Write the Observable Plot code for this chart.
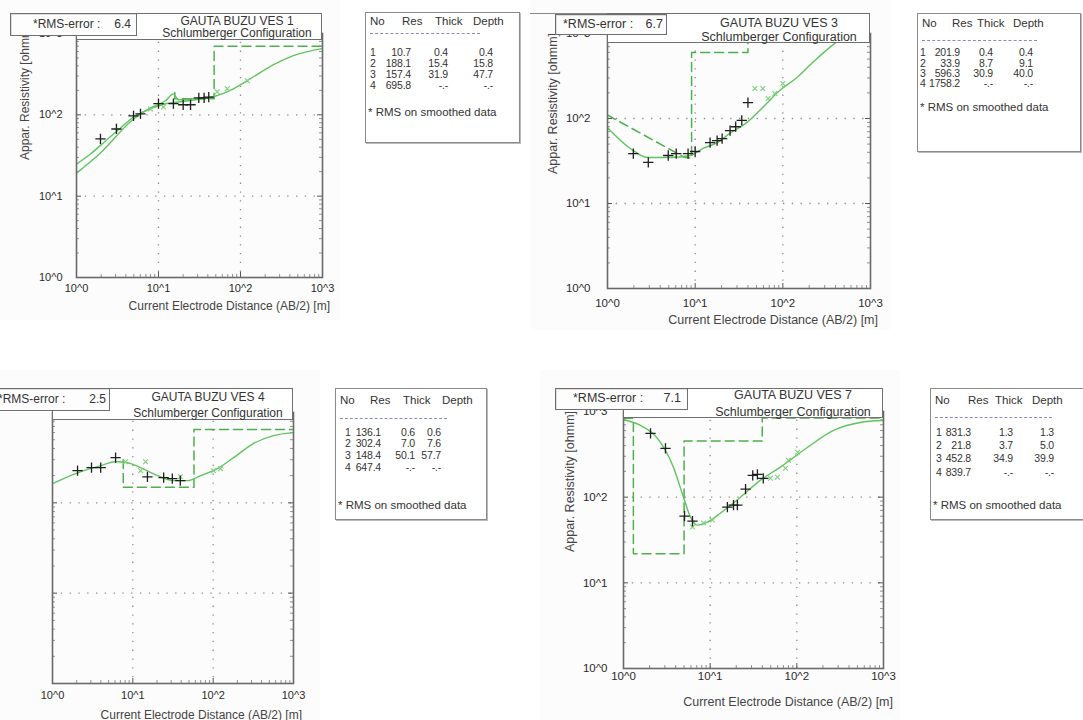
<!DOCTYPE html>
<html><head><meta charset="utf-8">
<script src="https://cdn.jsdelivr.net/npm/d3@7"></script>
<script src="https://cdn.jsdelivr.net/npm/@observablehq/plot@0.6"></script>
<style>
body{margin:0;width:1083px;height:720px;overflow:hidden;background:#fff;position:relative;font-family:"Liberation Sans",Arial,sans-serif}
.abs{position:absolute;white-space:nowrap}
.box{position:absolute;box-sizing:border-box;border:1px solid #7a7a7a;background:#fff}
.blue{color:#3a3aa6}
</style></head><body>
<script>
// ---------- shared axis data ----------
const tickValues = [1, 10, 100, 1000];
const tickLabels = ["10^0", "10^1", "10^2", "10^3"];
const gridValues = [10, 100];
const xTitle = "Current Electrode Distance (AB/2) [m]";
const yTitle = "Appar. Resistivity [ohmm]";
const legendHeader = ["No", "Res", "Thick", "Depth"];
const rmsNote = "* RMS on smoothed data";

// ---------- VES 1 ----------
const v1Title = "GAUTA BUZU VES 1";
const v1Rms = "6.4";
const v1ObsX = [1.96, 3.07, 4.96, 6.03, 10.0, 15.2, 20.0, 24.6, 31.0, 36.0, 41.0];
const v1ObsY = [50.6, 67, 97, 103, 137, 137, 133, 133, 162, 162, 165];
const v1SmX = [8.0, 11.5, 52, 69, 121];
const v1SmY = [118, 125, 192, 209, 262];
const v1CurveX = [1, 1.48, 2.26, 3.44, 4.96, 8.0, 12.2, 18.5, 28.3, 46.9, 82, 144, 253, 442, 1000];
const v1CurveY = [24.8, 33, 47.7, 69, 94, 119, 137, 145, 153, 167, 209, 294, 414, 535, 653];
const v1Curve2X = [1, 1.96, 4.96, 8.0, 12.2, 15.2, 17.5, 28.3, 46.9];
const v1Curve2Y = [19.2, 34, 89, 122, 149, 181, 153, 158, 167];
const v1ModelX = [15.8, 15.8, 47.7, 47.7, 1000];
const v1ModelY = [188.1, 157.4, 157.4, 695.8, 695.8];
const v1No = ["1", "2", "3", "4"];
const v1Res = ["10.7", "188.1", "157.4", "695.8"];
const v1Thick = ["0.4", "15.4", "31.9", "-.-"];
const v1Depth = ["0.4", "15.8", "47.7", "-.-"];

// ---------- VES 3 ----------
const v3Title = "GAUTA BUZU VES 3";
const v3Rms = "6.7";
const v3ObsX = [1.97, 2.92, 4.93, 6.08, 8.3, 10, 14.8, 17.8, 20.3, 25, 29, 34, 40];
const v3ObsY = [38.7, 30.4, 36.7, 38.7, 38.7, 40.9, 52, 55, 58, 72, 80, 95, 154];
const v3SmX = [48, 59, 68, 81, 100];
const v3SmY = [225, 225, 172, 197, 258];
const v3CurveX = [1, 1.82, 2.85, 5.2, 8.8, 12.3, 17.8, 25, 39, 59, 92, 145, 219, 389, 575];
const v3CurveY = [78, 44.4, 34.8, 34.8, 36.7, 44.4, 52, 67, 90, 135, 213, 303, 456, 760, 1000];
const v3ModelX = [1, 7.5, 9.1, 9.1, 40, 40, 1000];
const v3ModelY = [110, 35, 33.9, 596.3, 596.3, 1758.2, 1758.2];
const v3No = ["1", "2", "3", "4"];
const v3Res = ["201.9", "33.9", "596.3", "1758.2"];
const v3Thick = ["0.4", "8.7", "30.9", "-.-"];
const v3Depth = ["0.4", "9.1", "40.0", "-.-"];

// ---------- VES 4 ----------
const v4Title = "GAUTA BUZU VES 4";
const v4Rms = "2.5";
const v4ObsX = [2.05, 3.06, 3.98, 6.1, 15.2, 24.2, 31, 39];
const v4ObsY = [227, 245, 245, 316, 194, 190, 185, 176];
const v4SmX = [8.1, 14.4, 12.5, 39, 101, 123];
const v4SmY = [285, 285, 227, 194, 227, 239];
const v4CurveX = [1, 2.05, 3.98, 6.1, 8.6, 12.5, 20.3, 32, 48, 70, 113, 180, 316, 565, 1000];
const v4CurveY = [163, 215, 258, 285, 278, 245, 200, 176, 176, 200, 239, 316, 453, 555, 600];
const v4ModelX = [7.6, 7.6, 57.7, 57.7, 1000];
const v4ModelY = [302.4, 148.4, 148.4, 647.4, 647.4];
const v4No = ["1", "2", "3", "4"];
const v4Res = ["136.1", "302.4", "148.4", "647.4"];
const v4Thick = ["0.6", "7.0", "50.1", "-.-"];
const v4Depth = ["0.6", "7.6", "57.7", "-.-"];

// ---------- VES 7 ----------
const v7Title = "GAUTA BUZU VES 7";
const v7Rms = "7.1";
const v7ObsX = [2.05, 3.05, 5.06, 6.25, 15.8, 18.6, 20.6, 25.6, 31, 35.1, 41];
const v7ObsY = [555, 372, 60, 52.6, 76.6, 80.7, 80.7, 124, 180, 185, 166];
const v7SmX = [6.25, 8.4, 10.6, 49.6, 59.7, 74, 80, 102];
const v7SmY = [44.8, 50, 54, 166, 171, 217, 269, 334];
const v7CurveX = [1, 1.57, 2.47, 3.77, 4.92, 5.93, 7.1, 9.3, 13.1, 22.4, 38, 64, 132, 265, 540, 1000];
const v7CurveY = [800, 687, 485, 223, 100, 58.5, 47.2, 51, 65, 100, 158, 223, 380, 602, 745, 785];
const v7ModelX = [1, 1.3, 1.3, 5.0, 5.0, 39.9, 39.9, 1000];
const v7ModelY = [831.3, 831.3, 21.8, 21.8, 452.8, 452.8, 839.7, 839.7];
const v7No = ["1", "2", "3", "4"];
const v7Res = ["831.3", "21.8", "452.8", "839.7"];
const v7Thick = ["1.3", "3.7", "34.9", "-.-"];
const v7Depth = ["1.3", "5.0", "39.9", "-.-"];

// ---------- helpers ----------
const GREEN = "#5ec45e", GREEN_D = "#4faf4f", GREEN_X = "#7dcf7d";
const pts = (xs, ys) => xs.map((x, i) => ({x, y: ys[i]}));
const fmt = d => tickLabels[tickValues.indexOf(d)] ?? "";
const minor = [];
for (const dec of [1, 10, 100]) for (let k = 2; k <= 9; k++) minor.push(k * dec);

function el(tag, cls, css, text) {
  const e = document.createElement(tag);
  if (cls) e.className = cls;
  Object.assign(e.style, css);
  if (text != null) e.textContent = text;
  document.body.appendChild(e);
  return e;
}
function textAt(t, x, cy, opts = {}) {
  const fs = opts.fs || 12, lh = opts.lh || fs + 2;
  const css = {top: (cy - lh / 2) + "px", fontSize: fs + "px", lineHeight: lh + "px", color: opts.color || "#333"};
  if (opts.ls) css.letterSpacing = opts.ls + "px";
  const e = el("div", "abs" + (opts.blue ? " blue" : ""), css, t);
  if (opts.anchor === "middle") { e.style.left = x + "px"; e.style.transform = "translateX(-50%)"; }
  else if (opts.anchor === "end") { e.style.right = (1083 - x) + "px"; }
  else e.style.left = x + "px";
  return e;
}

function panel(p) {
  const ih = p.height - p.mt - p.mb, iw = p.width - p.ml - p.mr;
  const wrap = el("div", "abs", {left: p.left + "px", top: p.top + "px", width: p.width + "px", height: p.height + "px", background: "#fcfcfc"});
  const tickStyle = {stroke: "#555", strokeWidth: 1};
  const marks = [
    Plot.ruleX(gridValues, {stroke: "#8c8c8c", strokeWidth: 1.3, strokeDasharray: "1.3,7.5"}),
    Plot.ruleY(gridValues, {stroke: "#8c8c8c", strokeWidth: 1.3, strokeDasharray: "1.3,7.5"}),
    Plot.tickX(gridValues, {x: d => d, insetTop: ih - 5, ...tickStyle}),
    Plot.tickX(gridValues, {x: d => d, insetBottom: ih - 5, ...tickStyle}),
    Plot.tickY(gridValues, {y: d => d, insetRight: iw - 5, ...tickStyle}),
    Plot.tickY(gridValues, {y: d => d, insetLeft: iw - 5, ...tickStyle}),
    Plot.tickX(minor, {x: d => d, insetTop: ih - 3, stroke: "#777", strokeWidth: 0.8}),
    Plot.tickY(minor, {y: d => d, insetRight: iw - 3, stroke: "#777", strokeWidth: 0.8}),
    Plot.tickY(minor, {y: d => d, insetLeft: iw - 3, stroke: "#777", strokeWidth: 0.8}),
    Plot.line(pts(p.modelX, p.modelY), {x: "x", y: "y", stroke: GREEN_D, strokeWidth: 1.5, strokeDasharray: "9,5", clip: true}),
    ...p.curves.map(c => Plot.line(pts(c[0], c[1]), {x: "x", y: "y", stroke: GREEN, strokeWidth: 1.4, curve: "monotone-x", clip: true})),
    Plot.dot(pts(p.smX, p.smY), {x: "x", y: "y", symbol: "times", r: 2.3, stroke: GREEN_X, strokeWidth: 1.1}),
    Plot.dot(pts(p.obsX, p.obsY), {x: "x", y: "y", symbol: "plus", r: 3.4, stroke: "#1e1e1e", strokeWidth: 1.3}),
    Plot.frame({stroke: "#6a6a6a", strokeWidth: 1.6})
  ];
  const svg = Plot.plot({
    width: p.width, height: p.height,
    marginLeft: p.ml, marginRight: p.mr, marginTop: p.mt, marginBottom: p.mb,
    style: {background: "transparent", fontFamily: "Liberation Sans, Arial, sans-serif", fontSize: p.fs + "px", color: "#2a2a2a", overflow: "visible"},
    x: {type: "log", domain: [1, 1000], ticks: tickValues, tickFormat: fmt, tickSize: 0, tickPadding: p.xPad, label: null},
    y: p.yAxis === false
      ? {type: "log", domain: [1, 1000], axis: null}
      : {type: "log", domain: [1, 1000], ticks: tickValues, tickFormat: fmt, tickSize: 0, tickPadding: p.yPad, label: null},
    marks
  });
  wrap.appendChild(svg);
}

function header(h) {
  el("div", "box", {left: h.tL + "px", top: h.tT + "px", width: h.tW + "px", height: h.tH + "px", borderColor: "#6f6f6f"});
  textAt(h.title, h.cx, h.y1, {anchor: "middle", blue: true, fs: h.fs});
  textAt("Schlumberger Configuration", h.cx, h.y2, {anchor: "middle", blue: true, fs: h.fs});
  el("div", "box", {left: h.rL + "px", top: h.rT + "px", width: h.rW + "px", height: h.rH + "px", borderColor: "#6f6f6f", boxShadow: "inset 1px 1px 0 #ddd", background: "#fdfdfd"});
  textAt("*RMS-error :", h.rTx, h.rT + h.rH / 2 - 0.5, {fs: h.fs, lh: h.fs, color: "#333"});
  textAt(h.rms, h.rVx, h.rT + h.rH / 2 - 0.5, {fs: h.fs, lh: h.fs, color: "#333", anchor: "end"});
}

function legend(g) {
  el("div", "box", {left: g.L + "px", top: g.T + "px", width: g.W + "px", height: g.H + "px", borderColor: "#8a8a8a", boxShadow: "1px 1px 0 #bbb"});
  legendHeader.forEach((t, i) => textAt(t, g.L + g.hx[i], g.T + g.hy, {blue: true, fs: 11.5}));
  el("div", "abs", {left: (g.L + g.dx1) + "px", top: (g.T + g.dy) + "px", width: (g.dx2 - g.dx1) + "px", height: "0", borderTop: "1px dashed #8a8ac8"});
  const o = {blue: true, fs: 10.5, ls: -0.2};
  for (let i = 0; i < 4; i++) {
    const cy = g.T + g.ry[i];
    textAt(g.no[i], g.L + g.noX, cy, o);
    textAt(g.res[i], g.L + g.resR, cy, {...o, anchor: "end"});
    textAt(g.thick[i], g.L + g.thR, cy, {...o, anchor: "end"});
    textAt(g.depth[i], g.L + g.deR, cy, {...o, anchor: "end"});
  }
  textAt(rmsNote, g.L + g.nx, g.T + g.ny, {blue: true, fs: 11.5});
}

function yLabel(x, bottom, fs) {
  el("div", "abs", {left: x + "px", top: bottom + "px", fontSize: fs + "px", lineHeight: (fs + 2) + "px", color: "#444", transform: "rotate(-90deg)", transformOrigin: "0 0"}, yTitle);
}

// ---------- panels ----------
panel({left: 0, top: 0, width: 340, height: 320, ml: 76, mr: 18, mt: 33, mb: 43, xPad: 7, yPad: 14, fs: 11,
  obsX: v1ObsX, obsY: v1ObsY, smX: v1SmX, smY: v1SmY, curves: [[v1CurveX, v1CurveY], [v1Curve2X, v1Curve2Y]], modelX: v1ModelX, modelY: v1ModelY});
panel({left: 530, top: 0, width: 360, height: 330, ml: 77, mr: 20, mt: 33, mb: 42, xPad: 10, yPad: 17, fs: 11.5,
  obsX: v3ObsX, obsY: v3ObsY, smX: v3SmX, smY: v3SmY, curves: [[v3CurveX, v3CurveY]], modelX: v3ModelX, modelY: v3ModelY});
panel({left: 0, top: 370, width: 320, height: 350, ml: 52, mr: 27, mt: 42, mb: 37, xPad: 8, yAxis: false, fs: 11,
  obsX: v4ObsX, obsY: v4ObsY, smX: v4SmX, smY: v4SmY, curves: [[v4CurveX, v4CurveY]], modelX: v4ModelX, modelY: v4ModelY});
panel({left: 540, top: 370, width: 360, height: 350, ml: 83, mr: 17, mt: 41, mb: 52, xPad: 3, yPad: 16, fs: 11.5,
  obsX: v7ObsX, obsY: v7ObsY, smX: v7SmX, smY: v7SmY, curves: [[v7CurveX, v7CurveY]], modelX: v7ModelX, modelY: v7ModelY});

// axis titles
textAt(xTitle, 330, 306, {anchor: "end", fs: 12, color: "#444"});
textAt(xTitle, 878, 320, {anchor: "end", fs: 12.5, color: "#444"});
textAt(xTitle, 302, 715, {anchor: "end", fs: 12, color: "#444"});
textAt(xTitle, 893, 702, {anchor: "end", fs: 12.5, color: "#444"});
yLabel(18, 160, 12);
yLabel(546, 174, 12.5);
yLabel(563, 552, 12.5);

// top line near VES 3 header
el("div", "abs", {left: "530px", top: "13px", width: "77px", height: "0", borderTop: "1px solid #888"});

// headers
header({title: v1Title, rms: v1Rms, fs: 12, tL: 76, tT: 13, tW: 246, tH: 27, cx: 237, y1: 21, y2: 33,
  rL: 10, rT: 13, rW: 127, rH: 23, rTx: 33, rVx: 131});
header({title: v3Title, rms: v3Rms, fs: 12.5, tL: 607, tT: 13, tW: 263, tH: 30, cx: 779, y1: 23, y2: 37,
  rL: 555, rT: 14, rW: 112, rH: 21, rTx: 563, rVx: 663});
header({title: v4Title, rms: v4Rms, fs: 12, tL: 52, tT: 388, tW: 241, tH: 32, cx: 208, y1: 397, y2: 413,
  rL: -20, rT: 388, rW: 130, rH: 23, rTx: -2, rVx: 106});
header({title: v7Title, rms: v7Rms, fs: 12.5, tL: 623, tT: 388, tW: 260, tH: 30, cx: 793, y1: 395, y2: 412,
  rL: 555, rT: 388, rW: 133, rH: 22, rTx: 573, rVx: 681});

// legends
legend({L: 365, T: 12, W: 155, H: 131, hx: [5, 37, 70, 108], hy: 10, dx1: 5, dx2: 115, dy: 21,
  ry: [40, 51, 62, 73.5], noX: 5, resR: 46, thR: 83, deR: 128, nx: 3, ny: 101,
  no: v1No, res: v1Res, thick: v1Thick, depth: v1Depth});
legend({L: 917, T: 13, W: 164, H: 139, hx: [5, 35, 60, 96], hy: 11, dx1: 5, dx2: 120, dy: 27,
  ry: [39, 50, 60, 70.5], noX: 3, resR: 43, thR: 76, deR: 116, nx: 3, ny: 95,
  no: v3No, res: v3Res, thick: v3Thick, depth: v3Depth});
legend({L: 335, T: 388, W: 152, H: 132, hx: [5, 35, 68, 107], hy: 13, dx1: 5, dx2: 112, dy: 30,
  ry: [44, 55.5, 67, 79], noX: 10, resR: 46, thR: 80, deR: 106, nx: 3, ny: 118,
  no: v4No, res: v4Res, thick: v4Thick, depth: v4Depth});
legend({L: 930, T: 388, W: 165, H: 132, hx: [5, 38, 65, 102], hy: 13, dx1: 5, dx2: 122, dy: 29,
  ry: [44, 57, 70, 84], noX: 6, resR: 41, thR: 83, deR: 124, nx: 3, ny: 118,
  no: v7No, res: v7Res, thick: v7Thick, depth: v7Depth});
</script>
</body></html>
